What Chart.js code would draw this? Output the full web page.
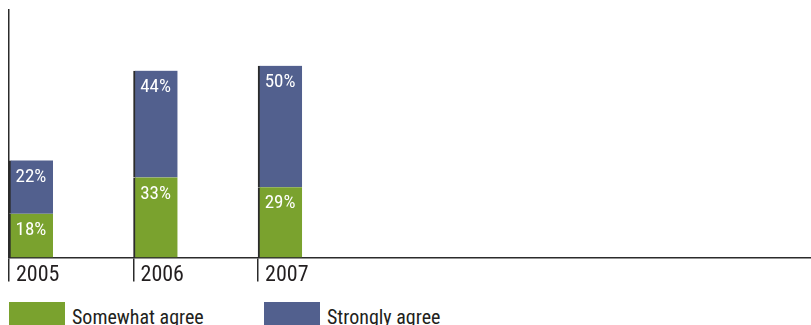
<!DOCTYPE html>
<html>
<head>
<meta charset="utf-8">
<script src="https://cdn.jsdelivr.net/npm/chart.js@4.4.0/dist/chart.umd.min.js"></script>
<style>
  html, body { margin: 0; padding: 0; background: #fff; overflow: hidden; }
  #wrap { position: relative; width: 811px; height: 325px; }
  #chart { position: absolute; left: 0; top: 0; }
  #legend { position: absolute; left: 9px; top: 302px; display: flex; }
  .item { width: 255px; display: flex; align-items: flex-start; }
  .box { width: 56px; height: 28px; margin-right: 7px; }
  .txt { font-family: "Roboto Condensed", Roboto, sans-serif; font-stretch: condensed; font-size: 20px; color: #231f20; line-height: 26px; margin-top: 2px; }
</style>
</head>
<body>
<div id="wrap">
  <canvas id="chart" width="811" height="300"></canvas>
  <div id="legend"></div>
</div>
<script>
var years = [2005, 2006, 2007];
var somewhatAgree = [18, 33, 29];
var stronglyAgree = [22, 44, 50];
var seriesNames = ['Somewhat agree', 'Strongly agree'];
var seriesColors = ['#7aa22e', '#52608e'];

var FONT = '"Roboto Condensed", Roboto, sans-serif';

function points(values) {
    return years.map(function(y, i) { return { x: y, y: values[i] }; });
}

// white % labels near the top of each segment
var segmentLabels = {
    id: 'segmentLabels',
    afterDatasetsDraw: function(chart) {
        var ctx = chart.ctx;
        ctx.save();
        ctx.fillStyle = '#ffffff';
        ctx.font = '19px ' + FONT;
        ctx.textAlign = 'center';
        ctx.textBaseline = 'top';
        chart.data.datasets.forEach(function(ds, di) {
            if (ds.stack !== 'main') return;
            chart.getDatasetMeta(di).data.forEach(function(bar, i) {
                ctx.fillText(ds.data[i].y + '%', bar.x, bar.y + 7);
            });
        });
        ctx.restore();
    }
};

var config = {
    type: 'bar',
    data: {
        datasets: [
            // empty first stack so the real bars sit to the right of each year tick
            { label: '', stack: 'pad', data: points([0, 0, 0]), backgroundColor: 'rgba(0,0,0,0)', borderWidth: 0 },
            { label: seriesNames[0], stack: 'main', data: points(somewhatAgree), backgroundColor: seriesColors[0] },
            { label: seriesNames[1], stack: 'main', data: points(stronglyAgree), backgroundColor: seriesColors[1] }
        ]
    },
    options: {
        responsive: false,
        animation: false,
        layout: { padding: { left: 9, top: 10, right: 0, bottom: 0 } },
        datasets: {
            bar: {
                barThickness: 44,
                borderWidth: { left: 2, top: 0, right: 0, bottom: 0 },
                borderColor: '#2b2b2b',
                borderSkipped: false
            }
        },
        plugins: {
            legend: { display: false },
            tooltip: { enabled: false }
        },
        scales: {
            x: {
                type: 'linear',
                offset: false,
                min: 2005,
                max: 2011.44,
                afterBuildTicks: function(scale) {
                    scale.ticks = years.map(function(v) { return { value: v }; });
                },
                afterFit: function(scale) { scale.height = 42.5; },
                ticks: {
                    align: 'start',
                    labelOffset: 7,
                    padding: -19.5,
                    color: '#231f20',
                    font: { family: FONT, size: 22 },
                    maxRotation: 0,
                    callback: function(v) { return String(v); }
                },
                grid: {
                    offset: false,
                    drawOnChartArea: false,
                    drawTicks: true,
                    tickLength: 24,
                    color: '#2b2b2b',
                    lineWidth: 1.5
                },
                border: { display: true, color: '#2b2b2b', width: 1.5 }
            },
            y: {
                stacked: true,
                min: 0,
                max: 102,
                ticks: { display: false },
                grid: { display: false },
                border: { display: true, color: '#2b2b2b', width: 1.5 },
                afterFit: function(scale) { scale.width = 0; }
            }
        }
    },
    plugins: [segmentLabels]
};

var ctx = document.getElementById('chart').getContext('2d');
var chart = new Chart(ctx, config);

// legend under the chart, built from the series lists
var legend = document.getElementById('legend');
seriesNames.forEach(function(name, i) {
    var item = document.createElement('div');
    item.className = 'item';
    var box = document.createElement('div');
    box.className = 'box';
    box.style.background = seriesColors[i];
    var txt = document.createElement('div');
    txt.className = 'txt';
    txt.textContent = name;
    item.appendChild(box);
    item.appendChild(txt);
    legend.appendChild(item);
});
</script>
</body>
</html>
